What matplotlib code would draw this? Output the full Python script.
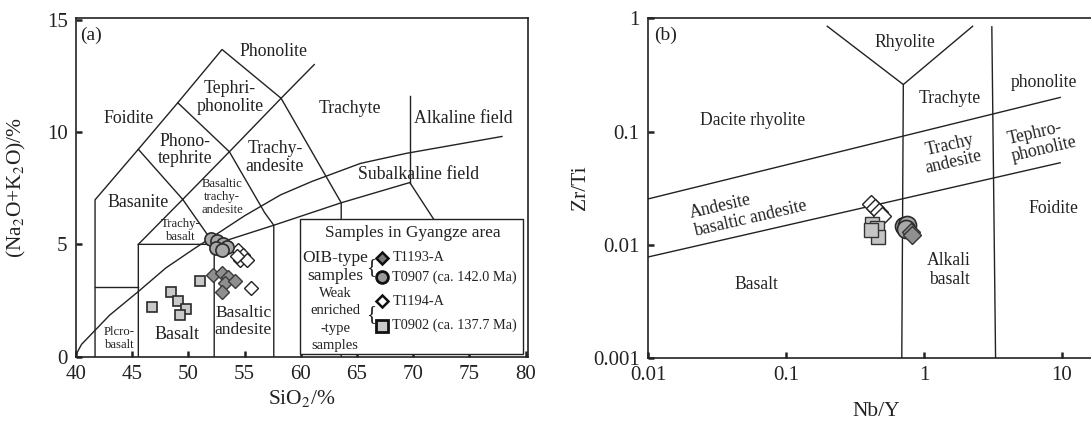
import matplotlib
matplotlib.use('Agg')
import matplotlib.pyplot as plt
from matplotlib.patches import Rectangle

plt.rcParams['font.family'] = 'Liberation Serif'
plt.rcParams['mathtext.fontset'] = 'stix'

# ---- sample data ----
# (a) TAS: SiO2 vs Na2O+K2O
t0902_sio2 = [46.8, 48.5, 49.1, 49.8, 49.3, 51.0]
t0902_alk = [2.21, 2.90, 2.46, 2.12, 1.87, 3.38]
t1193_sio2 = [52.2, 53.0, 53.5, 53.3, 54.15, 53.0]
t1193_alk = [3.64, 3.72, 3.54, 3.27, 3.35, 2.90]
t1194_sio2 = [54.45, 54.9, 54.6, 55.2, 54.3, 55.55]
t1194_alk = [4.76, 4.53, 4.31, 4.31, 4.46, 3.05]
t0907_sio2 = [51.98, 52.58, 53.06, 53.4, 52.47, 52.97]
t0907_alk = [5.24, 5.17, 5.02, 4.90, 4.83, 4.76]

# (b) Nb/Y vs Zr/Ti
t1194_nby = [0.41, 0.44, 0.47, 0.50]
t1194_zrti = [0.0228, 0.0210, 0.0195, 0.0179]
t0902_nby = [0.418, 0.46, 0.465, 0.41]
t0902_zrti = [0.0152, 0.0142, 0.0117, 0.0135]
t0907_nby = [0.72, 0.75, 0.74]
t0907_zrti = [0.0145, 0.0148, 0.0138]
t1193_nby = [0.80, 0.82]
t1193_zrti = [0.0130, 0.0123]

# ---- field boundaries ----
tas_lines = [
    [(41.7, 0), (41.7, 6.98), (45.55, 9.23), (49.06, 11.3), (53.0, 13.67), (58.25, 11.5)],
    [(49.5, 7.0), (53.65, 9.12), (58.25, 11.5), (61.2, 13.0)],
    [(58.25, 11.5), (63.6, 6.85), (63.6, 0)],
    [(49.06, 11.3), (53.65, 9.12), (56.8, 6.4), (57.6, 5.85), (57.6, 0)],
    [(45.55, 9.23), (49.5, 7.0), (52.3, 5.0), (52.3, 0)],
    [(41.7, 3.08), (45.55, 3.08)],
    [(45.55, 0), (45.55, 5.0), (49.5, 7.0)],
    [(45.55, 5.0), (52.3, 5.0), (57.6, 5.85), (63.6, 6.85), (69.7, 7.75), (72.5, 5.6)],
    [(69.7, 7.75), (69.7, 11.6)],
    [(39.9, 0), (40.5, 0.55), (43.0, 1.85), (45.55, 2.9), (48.0, 3.95), (50.5, 4.8),
     (52.5, 5.45), (55.0, 6.27), (58.2, 7.2), (61.0, 7.8), (65.3, 8.6), (69.4, 9.05), (77.9, 9.8)],
]

wf_lines = [
    [(0.01, 0.0254), (9.7, 0.2)],
    [(0.01, 0.0078), (9.7, 0.053)],
    [(0.199, 0.85), (0.708, 0.26), (2.25, 0.85)],
    [(0.708, 0.26), (0.69, 0.001)],
    [(3.1, 0.84), (3.3, 0.001)],
]

ink = '#222222'

fig = plt.figure(figsize=(10.91, 4.21), dpi=100)
ax1 = fig.add_axes([0.0696, 0.1527, 0.4142, 0.8034])
ax2 = fig.add_axes([0.594, 0.1496, 0.4175, 0.807])

for ax in (ax1, ax2):
    for s in ax.spines.values():
        s.set_linewidth(1.2)
        s.set_color(ink)
    ax.tick_params(direction='in', length=4, width=1.8, labelsize=15, pad=6,
                   colors=ink, top=False, right=False)

# ================= (a) =================
for seg in tas_lines:
    xs, ys = zip(*seg)
    ax1.plot(xs, ys, color=ink, lw=1.0, zorder=2)

ax1.plot(t0902_sio2, t0902_alk, 's', ms=7.5, mfc='#c9c9c9', mec='#2a2a2a', mew=1.2, zorder=3)
ax1.plot(t1193_sio2, t1193_alk, 'D', ms=7, mfc='#8f8f8f', mec='#3a3a3a', mew=1.0, zorder=3)
ax1.plot(t1194_sio2, t1194_alk, 'D', ms=7, mfc='white', mec='#222222', mew=1.0, zorder=3)
ax1.plot(t0907_sio2, t0907_alk, 'o', ms=9.5, mfc='#a8a8a8', mec='#2a2a2a', mew=1.2, zorder=3)

big = dict(fontsize=12.8, ha='center', va='center', color=ink)
small = dict(fontsize=9.2, ha='center', va='center', color=ink, linespacing=1.1)
ax1.text(40.4, 14.3, '(a)', fontsize=14, ha='left', va='center', color=ink)
ax1.text(57.6, 13.57, 'Phonolite', **big)
ax1.text(53.7, 11.52, 'Tephri-\nphonolite', linespacing=1.05, **big)
ax1.text(44.66, 10.6, 'Foidite', **big)
ax1.text(49.7, 9.2, 'Phono-\ntephrite', linespacing=1.05, **big)
ax1.text(57.7, 8.87, 'Trachy-\nandesite', linespacing=1.05, **big)
ax1.text(53.0, 7.1, 'Basaltic\ntrachy-\nandesite', **small)
ax1.text(45.55, 6.86, 'Basanite', **big)
ax1.text(49.35, 5.6, 'Trachy-\nbasalt', **small)
ax1.text(43.86, 0.81, 'Plcro-\nbasalt', **small)
ax1.text(48.97, 1.0, 'Basalt', fontsize=13, ha='center', va='center', color=ink)
ax1.text(54.9, 1.55, 'Basaltic\nandesite', linespacing=1.1, fontsize=12.5,
         ha='center', va='center', color=ink)
ax1.text(64.4, 11.05, 'Trachyte', **big)
ax1.text(74.5, 10.6, 'Alkaline field', **big)
ax1.text(70.5, 8.13, 'Subalkaline field', **big)

# sample key box
ax1.add_patch(Rectangle((59.9, 0.13), 19.9, 6.0, fc='white', ec=ink, lw=1.0, zorder=5))
ax1.text(70.0, 5.52, 'Samples in Gyangze area', fontsize=12.4, ha='center', va='center',
         color=ink, zorder=6)
ax1.text(63.05, 4.41, 'OIB-type', fontsize=12.5, ha='center', va='center', color=ink, zorder=6)
ax1.text(63.05, 3.60, 'samples', fontsize=12.5, ha='center', va='center', color=ink, zorder=6)
for yy, word in zip([2.8, 2.04, 1.27, 0.5], ['Weak', 'enriched', '-type', 'samples']):
    ax1.text(63.05, yy, word, fontsize=10.5, ha='center', va='center', color=ink, zorder=6)
ax1.text(66.3, 3.97, '{', fontsize=15, ha='center', va='center', color=ink, zorder=6)
ax1.text(66.3, 1.88, '{', fontsize=15, ha='center', va='center', color=ink, zorder=6)

key_y = [4.41, 3.54, 2.46, 1.38]
key_style = [
    dict(marker='D', ms=6.5, mfc='#7a7a7a', mec='#111111', mew=1.8),
    dict(marker='o', ms=8.5, mfc='#9a9a9a', mec='#111111', mew=2.0),
    dict(marker='D', ms=6.5, mfc='white', mec='#111111', mew=1.8),
    dict(marker='s', ms=8, mfc='#c9c9c9', mec='#111111', mew=2.0),
]
key_text = ['T1193-A', 'T0907 (ca. 142.0 Ma)', 'T1194-A', 'T0902 (ca. 137.7 Ma)']
for yy, st, lab in zip(key_y, key_style, key_text):
    ax1.plot([67.26], [yy], ls='none', zorder=6, clip_on=False, **st)
    ax1.text(68.15, yy, lab, fontsize=10.3, ha='left', va='center', color=ink, zorder=6)

ax1.set_xlim(40, 80.2)
ax1.set_ylim(0, 15.05)
ax1.set_xticks([40, 45, 50, 55, 60, 65, 70, 75, 80])
ax1.set_yticks([0, 5, 10, 15])
ax1.set_xlabel('SiO$_2$/%', fontsize=15.5, color=ink)
ax1.set_ylabel('(Na$_2$O+K$_2$O)/%', fontsize=15.5, color=ink)
ax1.xaxis.set_label_coords(0.5, -0.093)
ax1.yaxis.set_label_coords(-0.106, 0.5)

# ================= (b) =================
ax2.set_xscale('log')
ax2.set_yscale('log')
for seg in wf_lines:
    xs, ys = zip(*seg)
    ax2.plot(xs, ys, color=ink, lw=1.0, zorder=2)

ax2.plot(t1194_nby, t1194_zrti, 'D', ms=9, mfc='white', mec='#222222', mew=1.0, zorder=3)
ax2.plot(t0902_nby, t0902_zrti, 's', ms=9.5, mfc='#c4c4c4', mec='#333333', mew=1.0, zorder=3)
ax2.plot(t0907_nby, t0907_zrti, 'o', ms=13, mfc='#a8a8a8', mec='#2a2a2a', mew=1.2, zorder=3)
ax2.plot(t1193_nby, t1193_zrti, 'D', ms=9.5, mfc='#8f8f8f', mec='#333333', mew=1.0, zorder=4)

lab = dict(fontsize=12.7, ha='center', va='center', color=ink)
ax2.text(0.0111, 0.707, '(b)', fontsize=14, ha='left', va='center', color=ink)
ax2.text(0.0574, 0.125, 'Dacite rhyolite', **lab)
ax2.text(0.73, 0.617, 'Rhyolite', **lab)
ax2.text(1.54, 0.195, 'Trachyte', **lab)
ax2.text(7.4, 0.273, 'phonolite', **lab)
ax2.text(1.58, 0.0635, 'Trachy\nandesite', rotation=13, rotation_mode='anchor',
         linespacing=1.05, **lab)
ax2.text(7.13, 0.0832, 'Tephro-\nphonolite', rotation=13, rotation_mode='anchor',
         linespacing=1.05, multialignment='left', **lab)
ax2.text(8.65, 0.0207, 'Foidite', **lab)
ax2.text(0.053, 0.0204, 'Andesite\nbasaltic andesite', rotation=13, rotation_mode='anchor',
         linespacing=1.05, multialignment='left', **lab)
ax2.text(0.0614, 0.00443, 'Basalt', **lab)
ax2.text(1.52, 0.00597, 'Alkali\nbasalt', linespacing=1.2, **lab)

ax2.set_xlim(0.01, 20)
ax2.set_ylim(0.001, 1)
ax2.minorticks_off()
ax2.set_xticks([0.01, 0.1, 1, 10])
ax2.set_xticklabels(['0.01', '0.1', '1', '10'])
ax2.set_yticks([0.001, 0.01, 0.1, 1])
ax2.set_yticklabels(['0.001', '0.01', '0.1', '1'])
ax2.set_xlabel('Nb/Y', fontsize=15.5, color=ink)
ax2.set_ylabel('Zr/Ti', fontsize=15.5, color=ink)
ax2.xaxis.set_label_coords(0.5, -0.129)
ax2.yaxis.set_label_coords(-0.127, 0.5)

fig.savefig('out.png', dpi=100)
